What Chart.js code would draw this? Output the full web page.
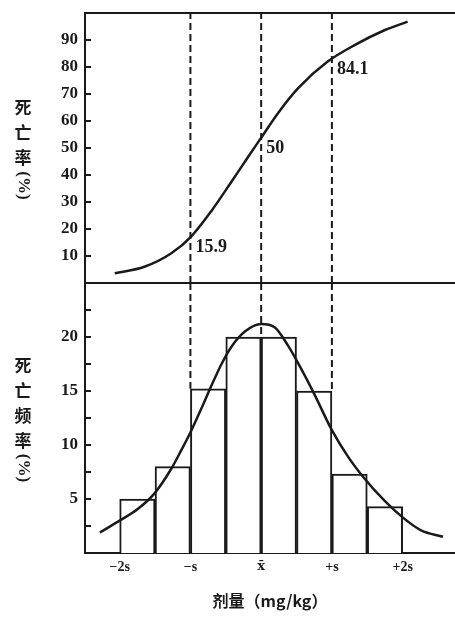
<!DOCTYPE html>
<html>
<head>
<meta charset="utf-8">
<script src="https://cdn.jsdelivr.net/npm/chart.js@4.4.1/dist/chart.umd.min.js"></script>
<style>
  body { margin: 0; background: #fff; }
  #wrap { position: relative; width: 455px; height: 619px; overflow: hidden; }
  canvas { position: absolute; left: 0; }
  #top { top: 0; }
  #bottom { top: 282px; }
</style>
</head>
<body>
<div id="wrap">
  <canvas id="top" width="455" height="285"></canvas>
  <canvas id="bottom" width="455" height="337"></canvas>
</div>
<script>
// dose axis is in units of s around the mean
var xTicks = [-2, -1, 0, 1, 2];
var xTickLabels = ['−2s', '−s', 'x̄', '+s', '+2s'];

// upper panel: cumulative mortality (%)
var topTicks = [10, 20, 30, 40, 50, 60, 70, 80, 90];
var cumDose = [-2.07, -1.65, -1.27, -0.99, -0.70, -0.42, -0.19, 0, 0.24, 0.52, 0.94, 1.32, 1.75, 2.07];
var cumMort = [3.6, 6.0, 11.0, 17.2, 26.8, 37.5, 46.5, 53.8, 63.0, 72.1, 82.0, 88.1, 93.7, 96.8];

// dashed marks at -s, mean, +s
var markDose = [-1, 0, 1];
var markValue = [15.9, 50, 84.1];
var markStop = [15.2, 20, 15]; // where the dashes stop in the lower panel

// lower panel: mortality frequency (%)
var lowTicks = [2.5, 5, 7.5, 10, 12.5, 15, 17.5, 20, 22.5];
var binCenter = [-1.75, -1.25, -0.75, -0.25, 0.25, 0.75, 1.25, 1.75];
var binFreq = [5, 8, 15.2, 20, 20, 15, 7.3, 4.3];
var normDose = [-2.28, -2.0, -1.74, -1.51, -1.27, -1.13, -0.99, -0.85, -0.73, -0.56, -0.42, -0.23, 0, 0.19, 0.38, 0.57, 0.76, 0.99, 1.23, 1.46, 1.75, 2.0, 2.26, 2.57];
var normFreq = [1.9, 3.0, 4.1, 5.5, 7.8, 9.5, 11.3, 13.3, 15.1, 17.5, 19.1, 20.5, 21.2, 20.9, 19.2, 17.0, 14.6, 11.5, 8.9, 6.9, 4.8, 3.3, 2.1, 1.5];

var ink = '#1a1a1a';
var xMin = -2.49, xMax = 2.74;
var numFont = { family: '"Liberation Serif", serif', size: 17, weight: 'bold' };

function pts(xs, ys) {
  return xs.map(function(x, i) { return { x: x, y: ys[i] }; });
}

function box(w, h) {
  return function(s) {
    if (w !== null) s.width = w;
    if (h !== null) s.height = h;
    s.paddingTop = 0; s.paddingBottom = 0; s.paddingLeft = 0; s.paddingRight = 0;
  };
}

// vertical (upright) axis title, e.g. 死亡率(%)
var vTitle = {
  id: 'vTitle',
  afterDraw: function(chart, args, opts) {
    var ctx = chart.ctx, a = chart.chartArea;
    var step = 25, tail = 30, cx = 23;
    var total = opts.chars.length * step + tail;
    var y0 = (a.top + a.bottom) / 2 - total / 2 + step / 2;
    ctx.save();
    ctx.fillStyle = ink;
    ctx.textAlign = 'center';
    ctx.textBaseline = 'middle';
    ctx.font = 'bold 17px "Noto Sans CJK SC"';
    opts.chars.forEach(function(c, i) { ctx.fillText(c, cx, y0 + i * step); });
    ctx.translate(cx, y0 + (opts.chars.length - 0.5) * step + tail / 2);
    ctx.rotate(Math.PI / 2);
    ctx.font = 'bold 17px "Liberation Serif"';
    ctx.fillText('(%)', 0, 0);
    ctx.restore();
  }
};

// 15.9 / 50 / 84.1 next to the dashed lines
var markLabels = {
  id: 'markLabels',
  afterDatasetsDraw: function(chart) {
    var ctx = chart.ctx, xs = chart.scales.x, ys = chart.scales.y;
    var dy = [7, 0, 13];
    ctx.save();
    ctx.fillStyle = ink;
    ctx.font = 'bold 18px "Liberation Serif"';
    ctx.textAlign = 'left';
    ctx.textBaseline = 'middle';
    markDose.forEach(function(d, i) {
      ctx.fillText(String(markValue[i]), xs.getPixelForValue(d) + 5, ys.getPixelForValue(markValue[i]) + dy[i]);
    });
    ctx.restore();
  }
};

function yAxis(max, ticks, labelOk) {
  return {
    type: 'linear', min: 0, max: max,
    afterFit: box(85, null),
    afterBuildTicks: function(s) { s.ticks = ticks.map(function(v) { return { value: v }; }); },
    grid: { display: true, drawOnChartArea: false, drawTicks: true, tickLength: -6, lineWidth: 2, color: ink },
    border: { display: true, width: 2, color: ink },
    ticks: {
      padding: 13, color: ink, font: numFont, autoSkip: false,
      callback: function(v) { return labelOk(v) ? String(v) : ''; }
    }
  };
}

function plainX(pos) {
  return {
    type: 'linear', position: pos, min: xMin, max: xMax,
    afterFit: box(null, 0),
    grid: { display: false, drawTicks: false },
    border: { display: true, width: 2, color: ink },
    ticks: { display: false }
  };
}

var dashStyle = { borderColor: ink, borderWidth: 2, borderDash: [7, 4], pointRadius: 0, fill: false, order: 1 };

var topSets = [{
  data: pts(cumDose, cumMort),
  borderColor: ink, borderWidth: 2.5, pointRadius: 0, fill: false,
  cubicInterpolationMode: 'monotone', order: 0
}];
markDose.forEach(function(d) {
  topSets.push(Object.assign({ data: [{ x: d, y: 0 }, { x: d, y: 100 }] }, dashStyle));
});

new Chart(document.getElementById('top'), {
  type: 'line',
  data: { datasets: topSets },
  options: {
    responsive: false, animation: false,
    layout: { padding: { top: 13, bottom: 2, left: 0, right: 0 } },
    plugins: { legend: { display: false }, tooltip: { enabled: false }, vTitle: { chars: ['死', '亡', '率'] } },
    scales: {
      x: plainX('bottom'),
      x2: plainX('top'),
      y: yAxis(100, topTicks, function(v) { return true; })
    }
  },
  plugins: [vTitle, markLabels]
});

var lowSets = [{
  type: 'bar',
  data: pts(binCenter, binFreq),
  backgroundColor: '#fff', borderColor: ink, borderWidth: 2,
  barPercentage: 1, categoryPercentage: 1, order: 2
}, {
  data: pts(normDose, normFreq),
  borderColor: ink, borderWidth: 2.5, pointRadius: 0, fill: false,
  cubicInterpolationMode: 'monotone', order: 0
}];
markDose.forEach(function(d, i) {
  lowSets.push(Object.assign({ data: [{ x: d, y: 25 }, { x: d, y: markStop[i] }] }, dashStyle));
});

new Chart(document.getElementById('bottom'), {
  type: 'line',
  data: { datasets: lowSets },
  options: {
    responsive: false, animation: false,
    layout: { padding: { top: 1, bottom: 0, left: 0, right: 0 } },
    plugins: { legend: { display: false }, tooltip: { enabled: false }, vTitle: { chars: ['死', '亡', '频', '率'] } },
    scales: {
      x: {
        type: 'linear', min: xMin, max: xMax, offset: false,
        afterFit: box(null, 66),
        afterBuildTicks: function(s) { s.ticks = xTicks.map(function(v) { return { value: v }; }); },
        grid: { display: false, drawTicks: false, offset: false },
        border: { display: true, width: 2, color: ink },
        ticks: {
          padding: 6, color: ink, autoSkip: false, maxRotation: 0,
          font: function(c) {
            var mean = c.tick && c.tick.value === 0;
            return { family: mean ? '"DejaVu Serif", serif' : '"Liberation Serif", serif', size: mean ? 13 : 14, weight: 'bold' };
          },
          callback: function(v) { return xTickLabels[xTicks.indexOf(v)]; }
        },
        title: {
          display: true, text: '剂量（mg/kg）', color: ink,
          font: { family: '"Noto Sans CJK SC"', size: 16, weight: 'bold' },
          padding: { top: 0, bottom: 8 }
        }
      },
      y: yAxis(25, lowTicks, function(v) { return v % 5 === 0; })
    }
  },
  plugins: [vTitle]
});
</script>
</body>
</html>
